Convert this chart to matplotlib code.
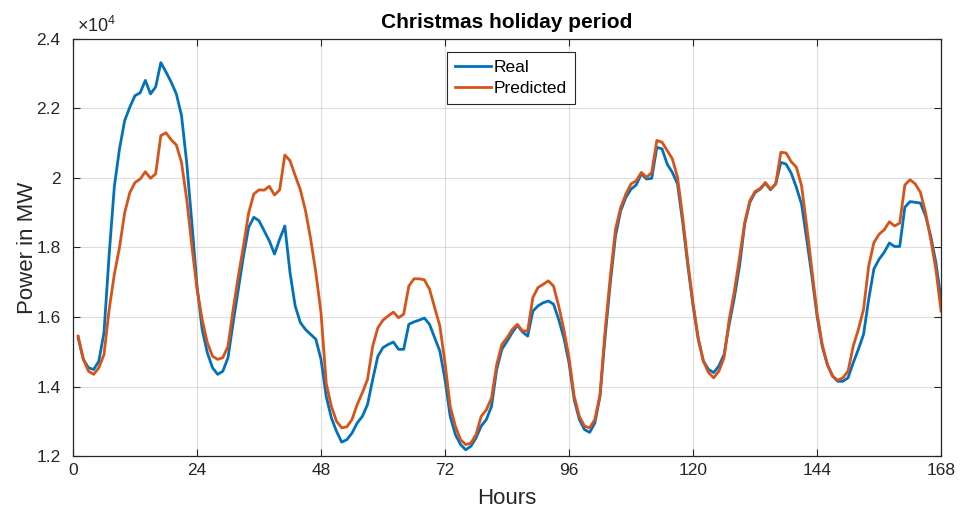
import numpy as np
import matplotlib
matplotlib.use("Agg")
import matplotlib.pyplot as plt
from matplotlib.ticker import FuncFormatter

plt.rcParams['font.family'] = ['Liberation Sans', 'DejaVu Sans']
plt.rcParams['mathtext.fontset'] = 'custom'
plt.rcParams['mathtext.rm'] = 'Liberation Sans'

# hourly load, MW
hours = np.arange(1, 169)

real = np.array([
    1.540, 1.478, 1.454, 1.449, 1.473, 1.556, 1.780, 1.975, 2.084, 2.165,
    2.204, 2.237, 2.245, 2.281, 2.242, 2.262, 2.332, 2.305, 2.276, 2.242,
    2.180, 2.045, 1.872, 1.690, 1.564, 1.497, 1.454, 1.435, 1.444, 1.483,
    1.584, 1.680, 1.776, 1.858, 1.887, 1.877, 1.848, 1.819, 1.781, 1.824,
    1.862, 1.728, 1.632, 1.584, 1.564, 1.550, 1.536, 1.478, 1.372, 1.310,
    1.271, 1.240, 1.247, 1.266, 1.295, 1.314, 1.348, 1.420, 1.487, 1.512,
    1.521, 1.528, 1.507, 1.507, 1.579, 1.586, 1.591, 1.597, 1.579, 1.540,
    1.502, 1.420, 1.314, 1.262, 1.233, 1.218, 1.228, 1.252, 1.286, 1.305,
    1.343, 1.449, 1.507, 1.530, 1.555, 1.576, 1.557, 1.545, 1.617, 1.632,
    1.641, 1.646, 1.637, 1.593, 1.540, 1.468, 1.362, 1.305, 1.276, 1.268,
    1.295, 1.372, 1.545, 1.699, 1.834, 1.906, 1.944, 1.968, 1.980, 2.012,
    1.997, 1.999, 2.088, 2.084, 2.040, 2.016, 1.983, 1.872, 1.747, 1.632,
    1.536, 1.473, 1.449, 1.440, 1.459, 1.492, 1.579, 1.656, 1.747, 1.867,
    1.930, 1.958, 1.968, 1.985, 1.966, 1.983, 2.045, 2.040, 2.014, 1.973,
    1.925, 1.824, 1.718, 1.603, 1.516, 1.463, 1.430, 1.415, 1.415, 1.425,
    1.468, 1.507, 1.550, 1.651, 1.738, 1.766, 1.786, 1.813, 1.803, 1.803,
    1.916, 1.932, 1.930, 1.928, 1.891, 1.833, 1.757, 1.650,
]) * 1e4

predicted = np.array([
    1.545, 1.478, 1.444, 1.435, 1.454, 1.492, 1.622, 1.723, 1.800, 1.900,
    1.958, 1.987, 1.997, 2.018, 1.999, 2.012, 2.122, 2.130, 2.110, 2.095,
    2.045, 1.940, 1.805, 1.680, 1.593, 1.526, 1.487, 1.478, 1.483, 1.516,
    1.622, 1.718, 1.805, 1.900, 1.954, 1.966, 1.965, 1.976, 1.951, 1.966,
    2.066, 2.050, 2.007, 1.966, 1.906, 1.824, 1.728, 1.612, 1.410, 1.343,
    1.300, 1.281, 1.284, 1.305, 1.348, 1.382, 1.420, 1.516, 1.569, 1.591,
    1.603, 1.614, 1.598, 1.608, 1.689, 1.710, 1.710, 1.707, 1.680, 1.627,
    1.574, 1.468, 1.343, 1.286, 1.247, 1.233, 1.237, 1.262, 1.314, 1.333,
    1.367, 1.463, 1.521, 1.540, 1.564, 1.579, 1.560, 1.560, 1.656, 1.685,
    1.694, 1.704, 1.689, 1.632, 1.564, 1.483, 1.372, 1.314, 1.286, 1.281,
    1.305, 1.377, 1.564, 1.718, 1.853, 1.915, 1.954, 1.983, 1.992, 2.016,
    2.002, 2.016, 2.108, 2.103, 2.079, 2.055, 2.002, 1.887, 1.757, 1.641,
    1.540, 1.473, 1.440, 1.425, 1.444, 1.483, 1.593, 1.675, 1.771, 1.872,
    1.935, 1.961, 1.970, 1.987, 1.968, 1.983, 2.074, 2.072, 2.047, 2.031,
    1.978, 1.862, 1.737, 1.612, 1.521, 1.463, 1.430, 1.418, 1.425, 1.444,
    1.516, 1.564, 1.622, 1.747, 1.814, 1.838, 1.851, 1.874, 1.862, 1.870,
    1.980, 1.995, 1.983, 1.959, 1.901, 1.824, 1.737, 1.617,
]) * 1e4

xticks = np.arange(0, 169, 24)
yticks = np.arange(12000, 24001, 2000)

dark = '#262626'

fig = plt.figure(figsize=(9.63, 5.13), dpi=100)
ax = fig.add_axes([0.0758, 0.1111, 0.9014, 0.8129])

ax.plot(hours, real, color='#0072BD', lw=2.0, label='Real')
ax.plot(hours, predicted, color='#D95319', lw=2.0, label='Predicted')

ax.set_xlim(0, 168)
ax.set_ylim(12000, 24000)
ax.set_xticks(xticks)
ax.set_yticks(yticks)
# matlab-style labels: 1.2 ... 2 ... 2.4 with a x10^4 exponent on top
ax.yaxis.set_major_formatter(FuncFormatter(lambda v, p: '%g' % round(v / 1e4, 2)))
ax.text(0.005, 1.006, r'$\times10^{4}$', transform=ax.transAxes,
        fontsize=13, color=dark, ha='left', va='bottom')

ax.grid(True, color=dark, alpha=0.15, lw=0.8)
ax.tick_params(direction='in', top=True, right=True, labelsize=12.5,
               colors=dark, length=5, width=0.8)
ax.tick_params(axis='y', pad=9)
ax.tick_params(axis='x', pad=5)
for s in ax.spines.values():
    s.set_color(dark)
    s.set_linewidth(0.9)

ax.set_xlabel('Hours', fontsize=16, color=dark, labelpad=7)
ax.set_ylabel('Power in MW', fontsize=16, color=dark, labelpad=-1)
ax.set_title('Christmas holiday period', fontsize=15, fontweight='bold',
             color='black', pad=8)

leg = ax.legend(loc='upper left', bbox_to_anchor=(0.431, 0.969),
                fontsize=12.5, fancybox=False, framealpha=1,
                edgecolor=dark, handlelength=2.1, handletextpad=0.15,
                borderpad=0.45, labelspacing=0.35, borderaxespad=0)
leg.get_frame().set_linewidth(0.8)

fig.savefig('out.png', dpi=100)
